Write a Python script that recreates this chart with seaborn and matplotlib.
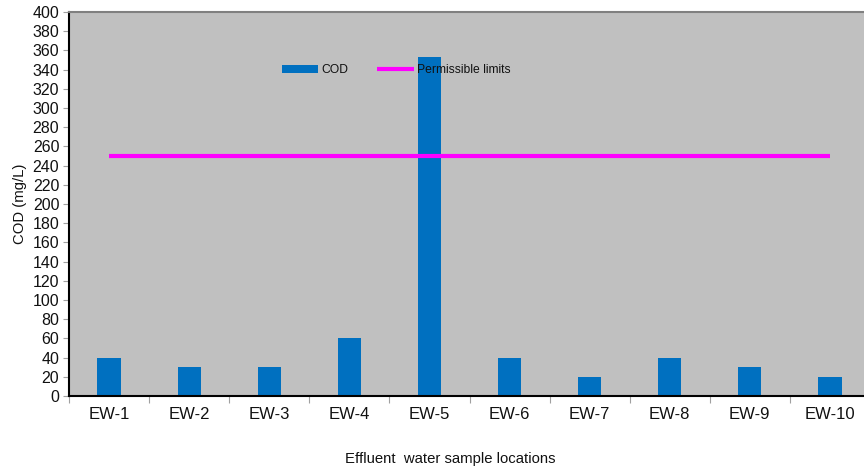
import matplotlib
matplotlib.use("Agg")
import matplotlib.pyplot as plt
import seaborn as sns
import numpy as np
import pandas as pd
from matplotlib.ticker import MultipleLocator, FixedLocator

# Sample locations and measured chemical oxygen demand
categories = ["EW-1", "EW-2", "EW-3", "EW-4", "EW-5",
              "EW-6", "EW-7", "EW-8", "EW-9", "EW-10"]
cod_values = [40, 30, 30, 60, 353, 40, 20, 40, 30, 20]
permissible_limits = [250] * len(categories)

df = pd.DataFrame({"location": categories, "cod": cod_values})

sns.set_theme(style="white")
plt.rcParams["font.family"] = ["Liberation Sans", "DejaVu Sans"]

W, H = 864, 468
fig = plt.figure(figsize=(W / 100, H / 100), dpi=100)
ax = fig.add_axes([69 / W, (H - 396) / H, (870 - 69) / W, (396 - 12) / H])
ax.set_facecolor("#C0C0C0")

sns.barplot(data=df, x="location", y="cod", color="#0070C0", width=0.29,
            saturation=1, edgecolor="none", ax=ax, label="COD", legend=False)
line, = ax.plot(np.arange(len(categories)), permissible_limits, color="#FF00FF",
                linewidth=3.0, solid_capstyle="butt", label="Permissible limits")
if ax.get_legend() is not None:
    ax.get_legend().remove()

ax.set_xlim(-0.5, len(categories) - 0.5)
ax.set_ylim(0, 400)
ax.yaxis.set_major_locator(MultipleLocator(20))

# Category boundaries get the tick marks, labels sit between them
ax.xaxis.set_minor_locator(FixedLocator(np.arange(-0.5, len(categories), 1.0)))
ax.tick_params(axis="x", which="major", length=0, pad=8, labelsize=12, labelcolor="#111111")
ax.tick_params(axis="x", which="minor", bottom=True, length=5, width=0.8, color="#A0A0A0")
ax.tick_params(axis="y", which="major", left=True, length=4, width=0.8, color="#A0A0A0",
               labelsize=11.5, labelcolor="#111111", pad=3)

for side in ["left", "bottom"]:
    ax.spines[side].set_color("#000000")
    ax.spines[side].set_linewidth(1.5)
ax.spines["top"].set_color("#808080")
ax.spines["top"].set_linewidth(1.5)
ax.spines["right"].set_visible(False)

ax.set_xlabel("Effluent  water sample locations", fontsize=10.7, color="#111111")
ax.xaxis.set_label_coords((450 - 69) / 801, (396 - 452) / 384)
ax.set_ylabel("COD (mg/L)", fontsize=10.7, color="#111111", labelpad=4)

bar_handle = ax.patches[0]
leg = fig.legend([bar_handle, line], ["COD", "Permissible limits"],
                 loc="center left", bbox_to_anchor=(282 / W, 1 - 70 / H), ncol=2,
                 frameon=False, fontsize=8.7, handlelength=3.0, handletextpad=0.25,
                 columnspacing=2.4, borderpad=0, borderaxespad=0)
for t in leg.get_texts():
    t.set_color("#111111")

fig.savefig("out.png", dpi=100)
